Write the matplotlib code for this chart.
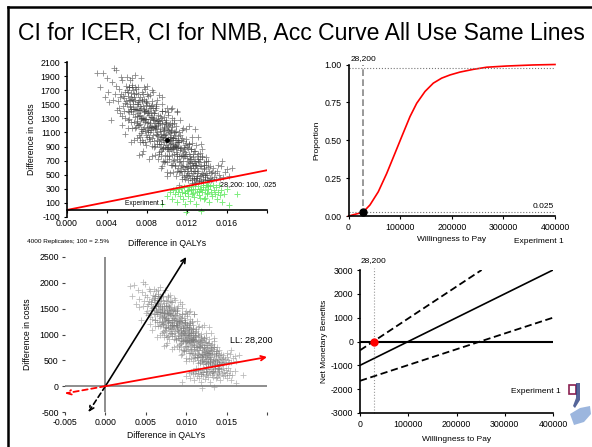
import numpy as np
import matplotlib
matplotlib.use('Agg')
import matplotlib.pyplot as plt
from matplotlib.lines import Line2D
from matplotlib.patches import Rectangle, Polygon

plt.rcParams['font.family'] = ['Liberation Sans', 'DejaVu Sans']
plt.rcParams['axes.unicode_minus'] = False

# bootstrap replicates (difference in QALYs, difference in costs)
boot_gray = [
    (0.0030, 1940), (0.0033, 1750), (0.0036, 1950), (0.0040, 1870), (0.0042, 1530), (0.0044, 1280),
    (0.0045, 1820), (0.0047, 2020), (0.0048, 1640), (0.0049, 1760), (0.0046, 1560), (0.0050, 1420),
    (0.0041, 1680), (0.0038, 1600), (0.0049, 1980),
    (0.0051, 1550), (0.0052, 1720), (0.0053, 1380), (0.0054, 1650), (0.0055, 1840), (0.0056, 1470),
    (0.0057, 1590), (0.0058, 1300), (0.0059, 1760), (0.0060, 1510), (0.0061, 1620), (0.0062, 1390),
    (0.0063, 1850), (0.0064, 1250), (0.0065, 1580), (0.0066, 1700), (0.0067, 1440), (0.0068, 1320),
    (0.0069, 1660), (0.0070, 1510), (0.0052, 1450), (0.0054, 1890), (0.0056, 1620), (0.0058, 1520),
    (0.0060, 1700), (0.0062, 1560), (0.0064, 1430), (0.0066, 1360), (0.0068, 1560), (0.0070, 1240),
    (0.0053, 1600), (0.0057, 1410), (0.0059, 1540), (0.0061, 1280), (0.0063, 1470), (0.0065, 1780),
    (0.0067, 1600), (0.0069, 1180), (0.0055, 1330), (0.0060, 1890), (0.0064, 1610), (0.0068, 1750),
    (0.0058, 1680), (0.0062, 1740), (0.0066, 1500),
    (0.0071, 1380), (0.0072, 1560), (0.0073, 1220), (0.0074, 1450), (0.0075, 1310), (0.0076, 1640),
    (0.0077, 1180), (0.0078, 1400), (0.0079, 1290), (0.0080, 1520), (0.0081, 1100), (0.0082, 1350),
    (0.0083, 1240), (0.0084, 1470), (0.0085, 1020), (0.0086, 1300), (0.0087, 1190), (0.0088, 1420),
    (0.0089, 1080), (0.0090, 1260), (0.0071, 1200), (0.0072, 1330), (0.0073, 1480), (0.0074, 1150),
    (0.0075, 1560), (0.0076, 1270), (0.0077, 1410), (0.0078, 1120), (0.0079, 1530), (0.0080, 1230),
    (0.0081, 1370), (0.0082, 1010), (0.0083, 1450), (0.0084, 1180), (0.0085, 1320), (0.0086, 1060),
    (0.0087, 1380), (0.0088, 1150), (0.0089, 1290), (0.0090, 940), (0.0072, 1420), (0.0074, 1300),
    (0.0076, 1480), (0.0078, 1250), (0.0080, 1380), (0.0082, 1180), (0.0084, 1320), (0.0086, 1450),
    (0.0088, 1230), (0.0090, 1100), (0.0073, 1040), (0.0075, 1120), (0.0077, 1580), (0.0079, 1060),
    (0.0081, 1620), (0.0083, 980), (0.0085, 1540), (0.0087, 900), (0.0089, 1470), (0.0071, 1650),
    (0.0073, 1350), (0.0077, 1290), (0.0081, 1250), (0.0085, 1180), (0.0089, 1190), (0.0075, 1000),
    (0.0079, 1420), (0.0083, 1110), (0.0087, 1270), (0.0070, 1420), (0.0072, 780), (0.0075, 800),
    (0.0080, 1760), (0.0078, 1720), (0.0085, 1700), (0.0076, 960),
    (0.0091, 1200), (0.0092, 980), (0.0093, 1120), (0.0094, 1310), (0.0095, 1030), (0.0096, 880),
    (0.0097, 1180), (0.0098, 1060), (0.0099, 920), (0.0100, 1150), (0.0101, 1010), (0.0102, 840),
    (0.0103, 1090), (0.0104, 950), (0.0105, 780), (0.0106, 1020), (0.0107, 900), (0.0108, 1100),
    (0.0109, 820), (0.0110, 960), (0.0091, 1050), (0.0092, 1260), (0.0093, 900), (0.0094, 1080),
    (0.0095, 1220), (0.0096, 1120), (0.0097, 960), (0.0098, 1240), (0.0099, 1080), (0.0100, 860),
    (0.0101, 1190), (0.0102, 980), (0.0103, 880), (0.0104, 1140), (0.0105, 990), (0.0106, 860),
    (0.0107, 1060), (0.0108, 920), (0.0109, 1000), (0.0110, 760), (0.0091, 1350), (0.0093, 1240),
    (0.0095, 1400), (0.0097, 1320), (0.0099, 1250), (0.0101, 1350), (0.0103, 1230), (0.0105, 1180),
    (0.0107, 1240), (0.0109, 1120), (0.0092, 820), (0.0094, 760), (0.0096, 700), (0.0098, 780),
    (0.0100, 680), (0.0102, 720), (0.0104, 640), (0.0106, 700), (0.0108, 620), (0.0110, 560),
    (0.0093, 1010), (0.0095, 870), (0.0097, 1070), (0.0099, 990), (0.0101, 900), (0.0103, 1000),
    (0.0105, 880), (0.0107, 800), (0.0109, 900), (0.0094, 930), (0.0096, 1000), (0.0098, 900),
    (0.0100, 1000), (0.0102, 1100), (0.0104, 1040), (0.0106, 940), (0.0108, 1020), (0.0110, 880),
    (0.0100, 1450), (0.0105, 1300), (0.0090, 1560), (0.0095, 1600), (0.0105, 1450), (0.0110, 1400),
    (0.0100, 540), (0.0095, 620),
    (0.0111, 900), (0.0112, 760), (0.0113, 850), (0.0114, 640), (0.0115, 780), (0.0116, 700),
    (0.0117, 560), (0.0118, 820), (0.0119, 620), (0.0120, 740), (0.0121, 520), (0.0122, 680),
    (0.0123, 590), (0.0124, 730), (0.0125, 480), (0.0126, 640), (0.0127, 550), (0.0128, 700),
    (0.0129, 460), (0.0130, 600), (0.0111, 1050), (0.0112, 960), (0.0113, 700), (0.0114, 880),
    (0.0115, 620), (0.0116, 840), (0.0117, 760), (0.0118, 580), (0.0119, 800), (0.0120, 560),
    (0.0121, 700), (0.0122, 800), (0.0123, 720), (0.0124, 560), (0.0125, 660), (0.0126, 520),
    (0.0127, 690), (0.0128, 560), (0.0129, 640), (0.0130, 480), (0.0112, 1100), (0.0114, 1000),
    (0.0116, 980), (0.0118, 920), (0.0120, 900), (0.0122, 940), (0.0124, 860), (0.0126, 800),
    (0.0128, 840), (0.0130, 760), (0.0113, 560), (0.0115, 500), (0.0117, 470), (0.0119, 480),
    (0.0121, 430), (0.0123, 460), (0.0125, 420), (0.0127, 440), (0.0129, 400), (0.0111, 600),
    (0.0131, 560), (0.0132, 680), (0.0133, 480), (0.0134, 620), (0.0135, 520), (0.0136, 440),
    (0.0137, 580), (0.0138, 470), (0.0139, 640), (0.0140, 500), (0.0141, 430), (0.0142, 560),
    (0.0143, 460), (0.0144, 520), (0.0145, 440), (0.0146, 600), (0.0147, 470), (0.0148, 520),
    (0.0149, 440), (0.0150, 560), (0.0131, 800), (0.0133, 720), (0.0135, 760), (0.0137, 680),
    (0.0139, 520), (0.0141, 700), (0.0143, 620), (0.0145, 540), (0.0132, 420), (0.0134, 410),
    (0.0136, 400), (0.0138, 420), (0.0140, 430), (0.0142, 420), (0.0144, 430),
    (0.0152, 500), (0.0154, 620), (0.0156, 470), (0.0158, 540), (0.0160, 580), (0.0162, 480),
    (0.0155, 700), (0.0153, 460), (0.0165, 600), (0.0151, 640),
    # denser core of the cloud
    (0.00605, 1675), (0.00615, 1290), (0.00625, 1560), (0.00635, 1400), (0.00645, 1750), (0.00655, 1430),
    (0.00665, 1640), (0.00675, 1170), (0.00685, 1440), (0.00695, 1260), (0.00705, 1500), (0.00715, 1070),
    (0.00725, 1610), (0.00735, 1290), (0.00745, 1670), (0.00755, 1150), (0.00765, 1390), (0.00775, 1290),
    (0.00785, 1490), (0.00795, 1030), (0.00805, 1410), (0.00815, 1030), (0.00825, 1290), (0.00835, 1130),
    (0.00845, 1490), (0.00855, 1160), (0.00865, 1370), (0.00875, 910), (0.00885, 1170), (0.00895, 990),
    (0.00905, 1240), (0.00915, 800), (0.00925, 1340), (0.00935, 1030), (0.00945, 1400), (0.00955, 880),
    (0.00965, 1130), (0.00975, 1020), (0.00985, 1220), (0.00995, 770), (0.01005, 1140), (0.01015, 760),
    (0.01025, 1030), (0.01035, 860), (0.01045, 1220), (0.01055, 900), (0.01065, 1100), (0.01075, 640),
    (0.01085, 910), (0.01095, 720), (0.01105, 970), (0.01115, 540), (0.01125, 1070), (0.01135, 760),
    (0.01145, 1140), (0.01155, 610), (0.01165, 860), (0.01175, 760), (0.01185, 950), (0.01195, 500),
    (0.01205, 880), (0.01215, 490), (0.01225, 760), (0.01235, 600), (0.01245, 950), (0.01255, 630),
    (0.01265, 840), (0.01275, 380), (0.01285, 640), (0.01295, 460), (0.01305, 700), (0.01325, 810),
    (0.01335, 500), (0.01345, 870), (0.01365, 600), (0.01375, 490), (0.01385, 690), (0.01405, 610),
    (0.00605, 1400), (0.00615, 1740), (0.00625, 1460), (0.00635, 1660), (0.00645, 1170), (0.00655, 1550),
    (0.00665, 1250), (0.00675, 1440), (0.00685, 1720), (0.00695, 1330), (0.00705, 1530), (0.00715, 1210),
    (0.00725, 1420), (0.00735, 1090), (0.00745, 1550), (0.00755, 1310), (0.00765, 1430), (0.00775, 970),
    (0.00785, 1550), (0.00795, 1160), (0.00805, 1140), (0.00815, 1480), (0.00825, 1190), (0.00835, 1390),
    (0.00845, 910), (0.00855, 1280), (0.00865, 980), (0.00875, 1180), (0.00885, 1450), (0.00895, 1060),
    (0.00905, 1270), (0.00915, 940), (0.00925, 1150), (0.00935, 830), (0.00945, 1280), (0.00955, 1040),
    (0.00965, 1170), (0.00975, 700), (0.00985, 1280), (0.00995, 900), (0.01005, 870), (0.01015, 1210),
    (0.01025, 930), (0.01035, 1120), (0.01045, 640), (0.01055, 1020), (0.01065, 710), (0.01075, 910),
    (0.01085, 1190), (0.01095, 790), (0.01105, 1000), (0.01115, 680), (0.01125, 880), (0.01135, 560),
    (0.01145, 1020), (0.01155, 770), (0.01165, 900), (0.01175, 440), (0.01185, 1010), (0.01195, 630),
    (0.01205, 610), (0.01215, 940), (0.01225, 660), (0.01235, 860), (0.01245, 380), (0.01255, 750),
    (0.01265, 450), (0.01275, 640), (0.01285, 920), (0.01295, 530), (0.01305, 730), (0.01315, 410),
    (0.01325, 620), (0.01345, 750), (0.01355, 510), (0.01365, 640), (0.01385, 750),
    # upper and lower flanks of the cloud
    (0.0065, 1870), (0.0068, 1910), (0.0071, 1750), (0.0074, 1870), (0.0077, 1750), (0.0080, 1650),
    (0.0083, 1630), (0.0086, 1670), (0.0089, 1510), (0.0092, 1630), (0.0095, 1510), (0.0098, 1410),
    (0.0101, 1390), (0.0104, 1430), (0.0107, 1270), (0.0110, 1390), (0.0113, 1270), (0.0116, 1170),
    (0.0119, 1150), (0.0122, 1190), (0.0125, 1030), (0.0128, 1150), (0.0131, 1030), (0.0134, 930),
    (0.0055, 1200), (0.0058, 1080), (0.0061, 1160), (0.0064, 960), (0.0067, 1000), (0.0070, 1020),
    (0.0073, 960), (0.0076, 840), (0.0079, 920), (0.0082, 720), (0.0085, 760), (0.0088, 780),
    (0.0091, 720), (0.0094, 600), (0.0097, 680), (0.0100, 480), (0.0103, 520), (0.0106, 540),
    (0.0109, 480), (0.0112, 360), (0.0115, 440),
]
# the replicates that fall below the 28,200 line (100 of 4000 = 2.5%)
boot_green = [
    (0.0095, 90), (0.0100, 200), (0.0103, 260), (0.0105, 160), (0.0106, 280), (0.0108, 230),
    (0.0109, 300), (0.0110, 120), (0.0111, 250), (0.0112, 300), (0.0113, 200), (0.0114, 310),
    (0.0115, 260), (0.0116, 150), (0.0117, 320), (0.0118, 90), (0.0119, -30), (0.0120, 270),
    (0.0121, 200), (0.0122, 330), (0.0123, 130), (0.0124, 280), (0.0125, 220), (0.0126, 340),
    (0.0127, 180), (0.0128, 300), (0.0129, 80), (0.0130, 260), (0.0131, 340), (0.0132, 210),
    (0.0133, 300), (0.0134, -10), (0.0135, 250), (0.0136, 330), (0.0137, 160), (0.0138, 280),
    (0.0139, 360), (0.0140, 220), (0.0141, 300), (0.0142, 120), (0.0143, 340), (0.0144, 250),
    (0.0145, 200), (0.0146, 360), (0.0147, 280), (0.0148, 220), (0.0149, 320), (0.0150, 150),
    (0.0151, 250), (0.0152, 360), (0.0153, 210), (0.0154, 290), (0.0155, 120), (0.0157, 220),
    (0.0160, 300), (0.0162, 70), (0.0170, 220), (0.0118, 240), (0.0126, 240), (0.0133, 170),
    (0.01315, 270), (0.01355, 350), (0.01395, 240), (0.01335, 300), (0.01375, 170), (0.01395, 360),
    (0.01405, 340), (0.0118, 240), (0.0121, 280), (0.0124, 300),
]
mean_qaly, mean_cost = 0.0100, 1000
wtp_ll = 28200

# acceptability curve
wtp = [0, 12600, 28200, 41600, 57700, 73900, 90000, 103000, 119100, 132100, 148200, 164300,
       180500, 196600, 216000, 241800, 267700, 306400, 358000, 400000]
prop_ce = [0.0, 0.011, 0.025, 0.073, 0.16, 0.28, 0.414, 0.523, 0.656, 0.744, 0.822, 0.877,
           0.910, 0.931, 0.95, 0.968, 0.982, 0.990, 0.997, 1.0]

# CI rays in the CE plane (end points)
upper_ray = (0.0100, 2500)
upper_ray_neg = (-0.0021, -500)
lower_ray = (0.0200, 564)
lower_ray_neg = (-0.0050, -141)

# net monetary benefit lines
nmb_wtp = [0, 400000]
nmb_mean = [-1000, 3000]
nmb_lo = [-1650, 1000]
nmb_hi_wtp = [0, 252000]
nmb_hi = [-370, 3000]

W, H = 592, 447


def rect(l, r, t, b):
    return [l / W, 1 - b / H, (r - l) / W, (b - t) / H]


gray = np.array(boot_gray)
green = np.array(boot_green)
tick_kw = dict(labelsize=6.3, length=2.5, width=0.8, pad=2.5, color='black')

fig = plt.figure(figsize=(W / 100, H / 100), dpi=100)

# slide frame and title
fig.add_artist(Line2D([8 / W, 1], [1 - 7 / H, 1 - 7 / H], color='black', lw=1.8))
fig.add_artist(Line2D([8 / W, 8 / W], [0, 1 - 7 / H], color='black', lw=1.8))
fig.text(18 / W, 1 - 40 / H, 'CI for ICER, CI for NMB, Acc Curve All Use Same Lines',
         fontsize=16.6, ha='left', va='baseline')

# --- top left: CE plane with 28,200 line
ax1 = fig.add_axes(rect(67, 267, 62, 217))
ax1.plot(gray[:, 0], gray[:, 1], '+', color='#3a3a3a', ms=5, mew=0.6, alpha=0.6)
ax1.plot(green[:, 0], green[:, 1], '+', color='#5ee85e', ms=4.5, mew=0.7, alpha=0.8)
ax1.plot([0, 0.02], [0, wtp_ll * 0.02], color='red', lw=1.3)
ax1.plot(mean_qaly, mean_cost, 'o', color='black', ms=2.5)
ax1.set_xlim(0, 0.02)
ax1.set_ylim(-100, 2100)
ax1.spines['top'].set_visible(False)
ax1.spines['right'].set_visible(False)
ax1.spines['bottom'].set_position(('data', 0))
ax1.spines['bottom'].set_linewidth(1.2)
ax1.spines['left'].set_linewidth(1.2)
ax1.set_xticks(np.arange(0, 0.0201, 0.004))
ax1.set_xticklabels(['0.000', '0.004', '0.008', '0.012', '0.016', ''])
ax1.set_yticks(np.arange(-100, 2101, 200))
ax1.tick_params(**tick_kw)
ax1.tick_params(axis='x', pad=4)
ax1.set_xlabel('Difference in QALYs', fontsize=6.2, labelpad=8)
ax1.set_ylabel('Difference in costs', fontsize=6.2, labelpad=3)
ax1.text(0.0078, 90, 'Experiment 1', fontsize=4.8, ha='center', va='center')
ax1.text(0.0153, 355, '28,200: 100, .025', fontsize=5.2, ha='left', va='center', clip_on=False)
fig.text(27 / W, 1 - 242 / H, '4000 Replicates; 100 = 2.5%', fontsize=4.6, ha='left', va='center')

# --- top right: acceptability curve
ax2 = fig.add_axes(rect(348.5, 555, 64.5, 216))
ax2.plot(wtp, prop_ce, color='red', lw=1.2, clip_on=False, solid_joinstyle='round')
ax2.axvline(wtp_ll, ymax=1.0, color='#888888', lw=1.2, dashes=(4, 2))
ax2.axhline(0.975, color='#777777', lw=0.8, ls=':')
ax2.axhline(0.025, color='#777777', lw=0.8, ls=':')
ax2.plot(wtp_ll, 0.025, 'o', color='black', ms=5, clip_on=False, zorder=5)
ax2.set_xlim(0, 400000)
ax2.set_ylim(0, 1.0)
ax2.spines['top'].set_visible(False)
ax2.spines['right'].set_visible(False)
ax2.spines['bottom'].set_linewidth(1.2)
ax2.spines['left'].set_linewidth(1.2)
ax2.set_xticks(np.arange(0, 400001, 100000))
ax2.set_yticks([0, 0.25, 0.5, 0.75, 1.0])
ax2.set_yticklabels(['0.00', '0.25', '0.50', '0.75', '1.00'])
ax2.tick_params(**tick_kw)
ax2.set_xlabel('Willingness to Pay', fontsize=6, labelpad=3)
ax2.set_ylabel('Proportion', fontsize=6, labelpad=3)
ax2.text(wtp_ll, 1.015, '28,200', fontsize=6, ha='center', va='bottom', clip_on=False)
ax2.text(398000, 0.04, '0.025', fontsize=6, ha='right', va='bottom')
fig.text(539 / W, 1 - 241 / H, 'Experiment 1', fontsize=6, ha='center', va='center')

# --- bottom left: CE plane with CI rays
ax3 = fig.add_axes(rect(65, 267, 257, 412))
ax3.plot(gray[:, 0], gray[:, 1], '+', color='#777777', ms=5, mew=0.6, alpha=0.5)
ax3.plot(green[:, 0], green[:, 1], '+', color='#777777', ms=5, mew=0.6, alpha=0.5)
ax3.axhline(0, color='#7a7a7a', lw=1.2)
ax3.axvline(0, color='#7a7a7a', lw=1.2)
ray = dict(arrowstyle='->', mutation_scale=8, shrinkA=0, shrinkB=0)
ax3.annotate('', xy=upper_ray, xytext=(0, 0), arrowprops=dict(color='black', lw=1.2, **ray))
ax3.annotate('', xy=upper_ray_neg, xytext=(0, 0),
             arrowprops=dict(color='black', lw=1.2, ls=(0, (3, 2)), **ray))
ax3.annotate('', xy=lower_ray, xytext=(0, 0), annotation_clip=False,
             arrowprops=dict(color='red', lw=1.3, **ray))
ax3.annotate('', xy=lower_ray_neg, xytext=(0, 0), annotation_clip=False,
             arrowprops=dict(color='red', lw=1.3, ls=(0, (3, 2)), **ray))
ax3.set_xlim(-0.005, 0.02)
ax3.set_ylim(-500, 2500)
for s in ax3.spines.values():
    s.set_visible(False)
ax3.set_xticks([-0.005, 0.0, 0.005, 0.010, 0.015, 0.020])
ax3.set_xticklabels(['-0.005', '0.000', '0.005', '0.010', '0.015', ''])
ax3.set_yticks(np.arange(-500, 2501, 500))
ax3.tick_params(**tick_kw)
ax3.tick_params(color='#444444', length=2)
ax3.set_xlabel('Difference in QALYs', fontsize=6.2, labelpad=3)
ax3.set_ylabel('Difference in costs', fontsize=6.2, labelpad=5)
ax3.text(0.0154, 890, 'LL: 28,200', fontsize=6.5, ha='left', va='center', clip_on=False)

# --- bottom right: net monetary benefits
ax4 = fig.add_axes(rect(360, 553, 270, 413))
ax4.axhline(0, color='black', lw=1.5)
ax4.plot(nmb_wtp, nmb_mean, color='black', lw=1.2)
ax4.plot(nmb_wtp, nmb_lo, color='black', lw=1.3, dashes=(4, 2))
ax4.plot(nmb_hi_wtp, nmb_hi, color='black', lw=1.3, dashes=(4, 2))
ax4.plot([wtp_ll, wtp_ll], [-3000, 3100], color='#999999', lw=0.8, ls=':', clip_on=False)
ax4.plot(wtp_ll, 0, 'o', color='red', ms=5, zorder=5)
ax4.set_xlim(0, 400000)
ax4.set_ylim(-3000, 3000)
ax4.spines['top'].set_visible(False)
ax4.spines['right'].set_visible(False)
ax4.spines['bottom'].set_linewidth(1.2)
ax4.spines['left'].set_linewidth(1.2)
ax4.set_xticks(np.arange(0, 400001, 100000))
ax4.set_yticks(np.arange(-3000, 3001, 1000))
ax4.tick_params(**tick_kw)
ax4.set_xlabel('Willingness to Pay', fontsize=6, labelpad=5)
ax4.set_ylabel('Net Monetary Benefits', fontsize=6, labelpad=2)
ax4.text(wtp_ll, 3250, '28,200', fontsize=6, ha='center', va='bottom', clip_on=False)
ax4.text(365000, -2100, 'Experiment 1', fontsize=6, ha='center', va='center')

# partial logo at the lower right edge
fig.add_artist(Rectangle((569 / W, 1 - 394 / H), 7 / W, 9 / H, fill=False,
                         edgecolor='#8a2050', lw=1.2))
fig.add_artist(Polygon([(576 / W, 1 - 383 / H), (580 / W, 1 - 383 / H), (580 / W, 1 - 400 / H),
                        (575 / W, 1 - 408 / H), (573 / W, 1 - 406 / H), (576 / W, 1 - 398 / H)],
                       closed=True, facecolor='#2a3f80', edgecolor='none', alpha=0.8))
fig.add_artist(Polygon([(570 / W, 1 - 414 / H), (580 / W, 1 - 408 / H), (590 / W, 1 - 406 / H),
                        (591 / W, 1 - 414 / H), (584 / W, 1 - 422 / H), (574 / W, 1 - 425 / H)],
                       closed=True, facecolor='#5a86c8', edgecolor='none', alpha=0.6))

fig.savefig('out.png', dpi=100)
